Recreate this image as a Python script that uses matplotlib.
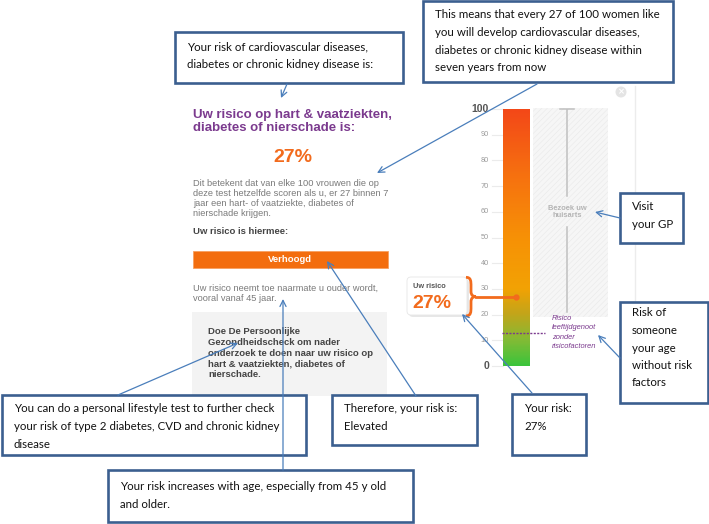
import numpy as np
import matplotlib.pyplot as plt
from matplotlib.colors import LinearSegmentedColormap
from matplotlib.patches import Rectangle, FancyBboxPatch, PathPatch, Circle
from matplotlib.path import Path

W, H = 709, 524

# gauge values (risk in %)
scale_ticks = list(range(0, 101, 10))
your_risk = 27
peer_risk = 13
gp_from = 19
gradient_stops = [0, 10, 20, 30, 50, 75, 100]
gradient_colors = ['#3cc43c', '#84bb35', '#c2a51a', '#f2a204', '#f79106', '#f67010', '#f34818']

# web page texts (Dutch)
title_lines = ['Uw risico op hart & vaatziekten,', 'diabetes of nierschade is:']
risk_label = '27%'
para_lines = ['Dit betekent dat van elke 100 vrouwen die op',
              'deze test hetzelfde scoren als u, er 27 binnen 7',
              'jaar een hart- of vaatziekte, diabetes of',
              'nierschade krijgen.']
level_label = 'Uw risico is hiermee:'
level_value = 'Verhoogd'
age_lines = ['Uw risico neemt toe naarmate u ouder wordt,', 'vooral vanaf 45 jaar.']
check_lines = ['Doe De Persoonlijke', 'Gezondheidscheck om nader',
               'onderzoek te doen naar uw risico op', 'hart & vaatziekten, diabetes of',
               'nierschade.']
gp_text = 'Bezoek uw\nhuisarts'
peer_lines = ['Risico', 'leeftijdgenoot', 'zonder', 'risicofactoren']

# english callouts: (x0, y0, x1, y1) box, first line y, lines, line start, arrow tip
callouts = [
    ((175, 32, 403, 83), 47, ['Your risk of cardiovascular diseases,',
                              'diabetes or chronic kidney disease is:'], (287, 84), (281, 98)),
    ((423, 1, 673, 82), 15, ['This means that every 27 of 100 women like',
                             'you will develop cardiovascular diseases,',
                             'diabetes or chronic kidney disease within',
                             'seven years from now'], (537, 84), (377, 173)),
    ((2, 395, 306, 455), 409, ['You can do a personal lifestyle test to further check',
                               'your risk of type 2 diabetes, CVD and chronic kidney',
                               'disease'], (118, 395), (238, 343)),
    ((332, 395, 477, 445), 409, ['Therefore, your risk is:', 'Elevated'], (416, 396), (327, 261)),
    ((512, 394, 586, 455), 409, ['Your risk:', '27%'], (532, 393), (462, 314)),
    ((108, 470, 413, 522), 487, ['Your risk increases with age, especially from 45 y old',
                                 'and older.'], (283, 470), (283, 299)),
    ((620, 193, 683, 243), 207, ['Visit', 'your GP'], (620, 218), (595, 212)),
    ((620, 302, 708, 403), 313, ['Risk of', 'someone', 'your age', 'without risk', 'factors'],
     (620, 358), (598, 335)),
]

ORANGE = '#f26b1d'
PURPLE = '#7b3a8e'
BLUE_EDGE = '#3b5f8f'
BLUE_LINE = '#4a7ebb'
WEB = 'Liberation Sans'


def lines(a, x, y0, dy, txt, **kw):
    for i, t in enumerate(txt):
        a.text(x, y0 + i * dy, t, va='center', **kw)


def px_axes(x0, y0, x1, y1):
    return [x0 / W, 1 - y1 / H, (x1 - x0) / W, (y1 - y0) / H]


fig = plt.figure(figsize=(W / 100, H / 100), dpi=100)
ax = fig.add_axes([0, 0, 1, 1])
ax.set_xlim(0, W)
ax.set_ylim(H, 0)
ax.axis('off')

# --- web page (left) ---
lines(ax, 193, 115, 13.3, title_lines, family=WEB, fontsize=9.5, fontweight='bold', color=PURPLE)
ax.text(293, 158, risk_label, ha='center', va='center', family=WEB, fontsize=14,
        fontweight='bold', color=ORANGE)
lines(ax, 193, 183, 10, para_lines, family=WEB, fontsize=6.7, color='#7a7a7a')
ax.text(193, 232, level_label, va='center', family=WEB, fontsize=6.8, fontweight='bold', color='#444444')
ax.add_patch(Rectangle((193, 251), 195, 17, facecolor='#f36d0e', edgecolor='#f7a060', lw=0.6))
ax.text(290, 259.5, level_value, ha='center', va='center', family=WEB, fontsize=6.8,
        fontweight='bold', color='white')
lines(ax, 193, 288, 10.5, age_lines, family=WEB, fontsize=6.7, color='#7a7a7a')
ax.add_patch(Rectangle((192, 312), 195, 84, facecolor='#f3f3f3', edgecolor='none'))
lines(ax, 208, 332, 10.7, check_lines, family=WEB, fontsize=6.8, fontweight='bold', color='#444444')

# panel border and close button
ax.plot([635, 635], [86, 400], color='#ececec', lw=1)
ax.add_patch(Circle((621, 92), 5.5, facecolor='#e4e4e4', edgecolor='none'))
ax.text(621, 92, '×', ha='center', va='center', fontsize=6, color='white', fontweight='bold')

# risk callout bubble
ax.add_patch(FancyBboxPatch((409, 279), 60, 38, boxstyle='round,pad=0,rounding_size=4',
                            facecolor='#d8d8d8', edgecolor='none', alpha=0.6))
ax.add_patch(FancyBboxPatch((407, 277), 60, 38, boxstyle='round,pad=0,rounding_size=4',
                            facecolor='white', edgecolor='#e6e6e6', lw=0.6))
ax.text(413, 286, 'Uw risico', va='center', family=WEB, fontsize=5.3, fontweight='bold', color='#555555')
ax.text(412, 303, risk_label, va='center', family=WEB, fontsize=14, fontweight='bold', color=ORANGE)

# --- gauge ---
gax = fig.add_axes(px_axes(470, 109, 640, 366))
gax.axis('off')
gax.patch.set_alpha(0)

cmap = LinearSegmentedColormap.from_list(
    'risk', list(zip(np.array(gradient_stops) / 100, gradient_colors)))
grad = np.linspace(0, 100, 300).reshape(-1, 1)
gax.imshow(grad, cmap=cmap, vmin=0, vmax=100, origin='lower', aspect='auto',
           extent=[503, 530, 0, 100], zorder=2)
gax.set_xlim(470, 640)
gax.set_ylim(0, 100)

for t in scale_ticks:
    gax.plot([492, 503], [t, t], color='#ebebeb', lw=0.8, zorder=1, clip_on=False)
    if t in (0, 100):
        gax.text(489, t, str(t), ha='right', va='center', family=WEB, fontsize=7.5,
                 fontweight='bold', color='#555555', clip_on=False)
    else:
        gax.text(489, t, str(t), ha='right', va='center', family=WEB, fontsize=5.3,
                 color='#9a9a9a', clip_on=False)

plt.rcParams['hatch.linewidth'] = 0.4
gax.add_patch(Rectangle((533, gp_from), 75, 100.4 - gp_from, facecolor='#f6f6f6',
                        edgecolor='#e9e9e9', hatch='//////', lw=0, zorder=1, clip_on=False))
gax.plot([567, 567], [100, 66], color='#c0c0c0', lw=1.1, zorder=2)
gax.plot([567, 567], [54, 21], color='#c0c0c0', lw=1.1, zorder=2)
gax.plot([560, 574], [100, 100], color='#c0c0c0', lw=1.1, zorder=2, clip_on=False)
gax.text(567, 60, gp_text, ha='center', va='center', family=WEB, fontsize=5.4,
         fontweight='bold', color='#b4b4b4', linespacing=1.1)

gax.plot([502, 545], [peer_risk, peer_risk], color=PURPLE, lw=1, ls=(0, (1.5, 1)), zorder=3)
for i, t in enumerate(peer_lines):
    gax.text(552, peer_risk + (1.5 - i) * 3.6, t, va='center', family=WEB, fontsize=5.4,
             style='italic', color=PURPLE)

gax.plot([476, 516], [your_risk, your_risk], color=ORANGE, lw=2, zorder=3, clip_on=False)
gax.plot([516], [your_risk], 'o', color=ORANGE, ms=3.5, zorder=3)
r = your_risk
brace = Path([(466, r + 7.5), (471, r + 7.5), (471, r + 6), (471, r + 4),
              (471, r + 2),
              (471, r + 0.6), (473, r), (476, r),
              (473, r), (471, r - 0.6), (471, r - 2),
              (471, r - 4),
              (471, r - 6), (471, r - 7.5), (466, r - 7.5)],
             [Path.MOVETO, Path.CURVE4, Path.CURVE4, Path.CURVE4,
              Path.LINETO,
              Path.CURVE4, Path.CURVE4, Path.CURVE4,
              Path.CURVE4, Path.CURVE4, Path.CURVE4,
              Path.LINETO,
              Path.CURVE4, Path.CURVE4, Path.CURVE4])
gax.add_patch(PathPatch(brace, facecolor='none', edgecolor=ORANGE, lw=2, zorder=3, clip_on=False))

# --- english annotation callouts ---
cx = fig.add_axes([0, 0, 1, 1])
cx.set_xlim(0, W)
cx.set_ylim(H, 0)
cx.axis('off')
cx.patch.set_alpha(0)

for (x0, y0, x1, y1), ty, txt, start, tip in callouts:
    cx.annotate('', xy=tip, xytext=start,
                arrowprops=dict(arrowstyle='->', color=BLUE_LINE, lw=0.9,
                                shrinkA=0, shrinkB=0, mutation_scale=11))
    cx.add_patch(Rectangle((x0, y0), x1 - x0, y1 - y0, facecolor='white',
                           edgecolor=BLUE_EDGE, lw=1.9, clip_on=False))
    lines(cx, x0 + 12, ty, 17.5, txt, family='Lato', fontsize=8.3, color='#111111')

fig.savefig('out.png', dpi=100)
